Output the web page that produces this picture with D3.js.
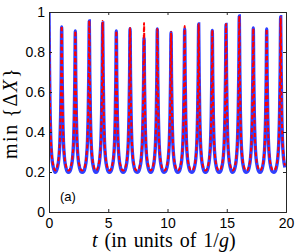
<!DOCTYPE html>
<html>
<head>
<meta charset="utf-8">
<script src="https://cdn.jsdelivr.net/npm/d3@7"></script>
<style>
  body { margin: 0; background: #fff; }
</style>
</head>
<body>
<div id="chart"></div>
<script>
// values (t in units of 1/g)
var peakT = [0, 1.07, 2.22, 3.40, 4.53, 5.68, 6.84, 8.02, 9.14, 10.30, 11.45, 12.63, 13.78, 14.94, 16.06, 17.24, 18.37, 19.55];
var bluePeak = [1.0, 0.925, 0.905, 0.955, 0.945, 0.905, 0.917, 0.87, 0.915, 0.898, 0.915, 0.94, 0.908, 0.938, 0.98, 0.92, 0.915, 0.977];
var redPeak = [1.0, 0.93, 0.905, 0.958, 0.955, 0.905, 0.92, 0.945, 0.915, 0.9, 0.93, 0.94, 0.91, 0.94, 0.98, 0.918, 0.915, 0.975];
var blueTrough = 0.198;
var redTrough = 0.208;
// shape of each spike: [time offset from the peak, fraction of the height above the trough]
var flank = [[0.04, 0.66], [0.09, 0.39], [0.15, 0.21], [0.24, 0.095], [0.36, 0.032], [0.47, 0.006]];
var xTicks = [0, 5, 10, 15, 20];
var yTicks = [0, 0.2, 0.4, 0.6, 0.8, 1];

var width = 300, height = 252;
var plotLeft = 49, plotRight = 286, plotTop = 12, plotBottom = 212;

var x = d3.scaleLinear().domain([0, 20]).range([plotLeft, plotRight]);
var y = d3.scaleLinear().domain([0, 1]).range([plotBottom, plotTop]);

function buildSeries(peaks, trough) {
  var pts = [];
  peaks.forEach(function (p, i) {
    var t0 = peakT[i];
    if (i > 0) {
      pts.push([(peakT[i - 1] + t0) / 2, trough]);
      flank.slice().reverse().forEach(function (f) {
        pts.push([t0 - f[0], trough + (p - trough) * f[1]]);
      });
    }
    pts.push([t0, p]);
    flank.forEach(function (f) {
      pts.push([t0 + f[0], trough + (p - trough) * f[1]]);
    });
  });
  return pts.filter(function (d) { return d[0] <= 20; });
}

var svg = d3.select("#chart").append("svg")
  .attr("width", width)
  .attr("height", height);

svg.append("clipPath").attr("id", "clip")
  .append("rect")
  .attr("x", plotLeft).attr("y", plotTop - 2)
  .attr("width", plotRight - plotLeft).attr("height", plotBottom - plotTop + 2);

var line = d3.line()
  .x(function (d) { return x(d[0]); })
  .y(function (d) { return y(d[1]); })
  .curve(d3.curveMonotoneX);

var plot = svg.append("g").attr("clip-path", "url(#clip)");

plot.append("path")
  .datum(buildSeries(bluePeak, blueTrough))
  .attr("fill", "none")
  .attr("stroke", "#3040ff")
  .attr("stroke-width", 3.4)
  .attr("d", line);

plot.append("path")
  .datum(buildSeries(redPeak, redTrough))
  .attr("fill", "none")
  .attr("stroke", "#ff0000")
  .attr("stroke-width", 2)
  .attr("stroke-dasharray", "4,2.5")
  .attr("d", line);

// axes, ticks pointing inwards
var fmt = d3.format("~g");
svg.append("g").attr("transform", "translate(0," + plotBottom + ")")
  .call(d3.axisBottom(x).tickValues(xTicks).tickSize(-3).tickPadding(6).tickFormat(fmt));
svg.append("g").attr("transform", "translate(0," + plotTop + ")")
  .call(d3.axisTop(x).tickValues(xTicks).tickSize(-3).tickFormat(""));
svg.append("g").attr("transform", "translate(" + plotLeft + ",0)")
  .call(d3.axisLeft(y).tickValues(yTicks).tickSize(-3).tickPadding(4).tickFormat(fmt));
svg.append("g").attr("transform", "translate(" + plotRight + ",0)")
  .call(d3.axisRight(y).tickValues(yTicks).tickSize(-3).tickFormat(""));

svg.selectAll(".domain").attr("stroke", "#262626");
svg.selectAll(".tick line").attr("stroke", "#262626");
svg.selectAll(".tick text")
  .attr("fill", "#000")
  .style("font-family", "'Liberation Sans', Arial, sans-serif")
  .style("font-size", "14px");

svg.append("text")
  .attr("x", 60).attr("y", 201)
  .style("font-family", "'Liberation Sans', Arial, sans-serif")
  .style("font-size", "13px")
  .text("(a)");

// x label
var xl = svg.append("text")
  .attr("x", 92).attr("y", 247)
  .style("font-family", "'Liberation Serif', 'Times New Roman', serif")
  .style("font-size", "20px")
  .style("word-spacing", "2px");
xl.append("tspan").style("font-style", "italic").text("t");
xl.append("tspan").text(" (in units of 1/");
xl.append("tspan").style("font-style", "italic").text("g");
xl.append("tspan").text(")");

// y label
var yl = svg.append("text")
  .attr("transform", "translate(17,113) rotate(-90)")
  .attr("text-anchor", "middle")
  .style("font-family", "'Liberation Serif', 'Times New Roman', serif")
  .style("font-size", "20px")
  .style("letter-spacing", "1.6px");
yl.append("tspan").text("min\u2009{\u0394");
yl.append("tspan").style("font-style", "italic").text("X");
yl.append("tspan").text("}");
</script>
</body>
</html>
